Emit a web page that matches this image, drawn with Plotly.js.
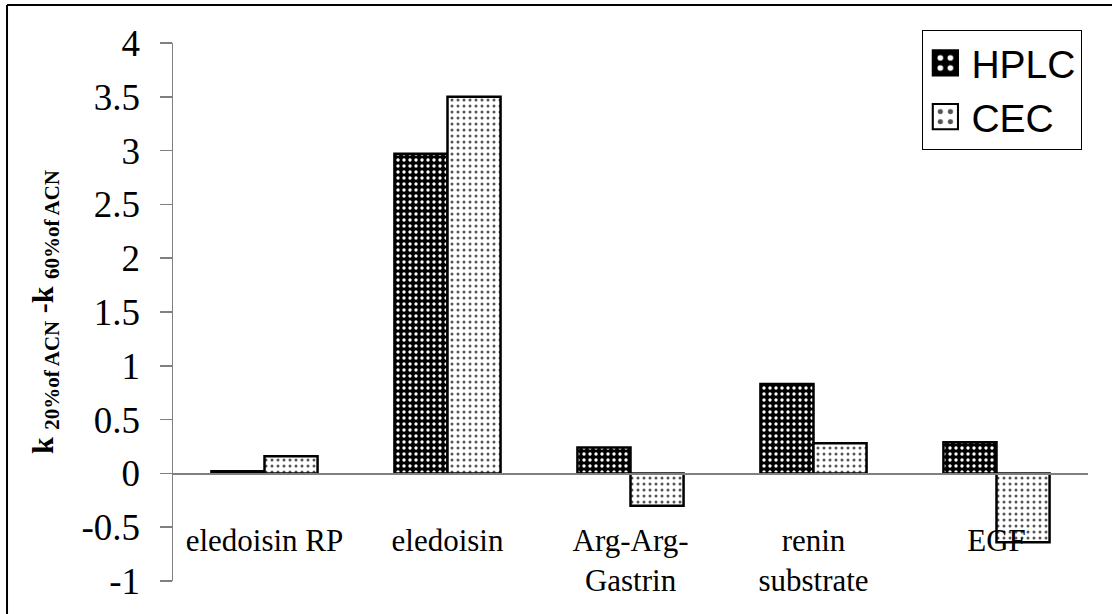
<!DOCTYPE html>
<html>
<head>
<meta charset="utf-8">
<script src="https://cdn.plot.ly/plotly-3.0.1.min.js"></script>
<style>
  html, body { margin: 0; padding: 0; background: #fff; }
  #chart { width: 1112px; height: 614px; }
</style>
</head>
<body>
<div id="chart"></div>
<script>
const categories = ["eledoisin RP", "eledoisin", "Arg-Arg-<br>Gastrin", "renin<br>substrate", "EGF"];
const hplcValues = [0.02, 2.97, 0.24, 0.83, 0.29];
const cecValues = [0.16, 3.5, -0.3, 0.28, -0.64];
const yTickVals = [-1, -0.5, 0, 0.5, 1, 1.5, 2, 2.5, 3, 3.5, 4];
const yTickText = ["-1", "-0.5", "0", "0.5", "1", "1.5", "2", "2.5", "3", "3.5", "4"];

const serif = "Liberation Serif, Times New Roman, serif";
const sans = "Liberation Sans, Arial, sans-serif";

const traces = [
  {
    type: "bar", name: "HPLC", x: categories, y: hplcValues,
    marker: {
      color: "#000000",
      line: { color: "#000000", width: 2.5 },
      pattern: { shape: ".", bgcolor: "#000000", fgcolor: "#ffffff", size: 6, solidity: 0.25, fillmode: "replace" }
    }
  },
  {
    type: "bar", name: "CEC", x: categories, y: cecValues,
    marker: {
      color: "#ffffff",
      line: { color: "#000000", width: 2.5 },
      pattern: { shape: ".", bgcolor: "#ffffff", fgcolor: "#555555", size: 6, solidity: 0.2, fillmode: "replace" }
    }
  }
];

const layout = {
  width: 1112, height: 614,
  margin: { l: 173, r: 24, t: 43, b: 33 },
  paper_bgcolor: "#ffffff", plot_bgcolor: "#ffffff",
  barmode: "group", bargap: 0.42, bargroupgap: 0,
  showlegend: true,
  legend: {
    x: 0.819, y: 1.024, xanchor: "left", yanchor: "top",
    bordercolor: "#000000", borderwidth: 1, bgcolor: "#ffffff",
    font: { family: sans, size: 39, color: "#000000" },
    tracegroupgap: 0, itemwidth: 38
  },
  xaxis: {
    type: "category",
    anchor: "free", position: 0.2,
    showline: true, linecolor: "#808080", linewidth: 1.5,
    showgrid: false, zeroline: false, ticks: "",
    tickfont: { family: serif, size: 31, color: "#000000" },
    ticklabelstandoff: 39,
    fixedrange: true
  },
  yaxis: {
    range: [-1, 4],
    tickvals: yTickVals, ticktext: yTickText,
    showline: true, linecolor: "#808080", linewidth: 1.5,
    ticks: "outside", ticklen: 12, tickcolor: "#808080", tickwidth: 1.5,
    showgrid: false, zeroline: false,
    tickfont: { family: serif, size: 37, color: "#000000" },
    ticklabelstandoff: 12,
    title: {
      text: "<b>k <sub>20%of ACN</sub> -k <sub>60%of ACN</sub></b>",
      font: { family: serif, size: 30, color: "#000000" },
      standoff: 19
    },
    fixedrange: true
  },
  shapes: [
    { type: "line", xref: "paper", yref: "paper", x0: -0.1814, x1: 1.2, y0: 1.0706, y1: 1.0706, line: { color: "#000000", width: 2 } },
    { type: "line", xref: "paper", yref: "paper", x0: -0.1814, x1: -0.1814, y0: 1.0706, y1: -0.2, line: { color: "#000000", width: 2 } }
  ]
};

Plotly.newPlot("chart", traces, layout, { staticPlot: true, displayModeBar: false }).then(function (gd) {
  gd.querySelectorAll(".legend .legendpoints path").forEach(function (p) {
    const prev = p.getAttribute("transform") || "";
    p.setAttribute("transform", prev + " translate(-2,0) scale(2.1)");
    p.style.strokeWidth = "1px";
  });
});
</script>
</body>
</html>
